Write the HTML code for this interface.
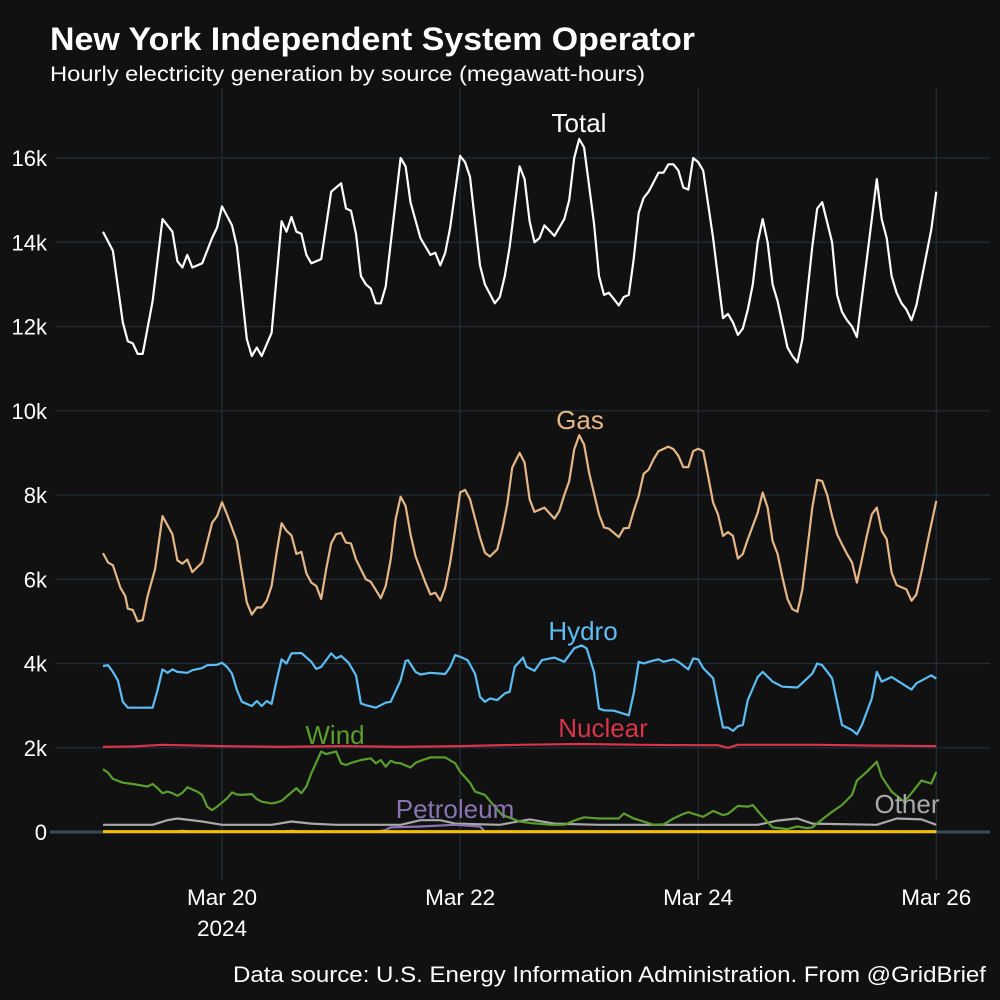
<!DOCTYPE html>
<html><head><meta charset="utf-8">
<style>
body{margin:0;background:#111111;}
svg{display:block;font-family:"Liberation Sans",sans-serif;}
</style></head>
<body>
<svg id="chart" width="1000" height="1000" viewBox="0 0 1000 1000">
<rect width="1000" height="1000" fill="#111111"/>
<text x="50" y="50" fill="#ffffff" font-size="32" font-weight="bold" textLength="645" lengthAdjust="spacingAndGlyphs">New York Independent System Operator</text>
<text x="50" y="81" fill="#ffffff" font-size="21" textLength="595" lengthAdjust="spacingAndGlyphs">Hourly electricity generation by source (megawatt-hours)</text>
<text x="986" y="982" fill="#ffffff" font-size="22" text-anchor="end" textLength="753" lengthAdjust="spacingAndGlyphs">Data source: U.S. Energy Information Administration. From @GridBrief</text>
<g id="grid"></g>
<g id="axes"></g>
<g id="series"></g>
<g id="labels"></g>
</svg>
<script>
const yTicks=[0,2000,4000,6000,8000,10000,12000,14000,16000];
const yTickLabels=["0","2k","4k","6k","8k","10k","12k","14k","16k"];
const xTickHours=[24,72,120,168];
const xTickLabels=["Mar 20","Mar 22","Mar 24","Mar 26"];
const totalHours=[0,2,4,5,6,7,8,10,12,14,15,16,17,18,20,22,23,24,26,27,29,30,31,32,34,36,37,38,39,40,41,42,44,46,48,49,50,51,52,53,54,55,56,57,60,61,62,64,66,67,68,69,70,72,73,74,76,77,79,80,81,82,84,85,86,87,88,89,91,93,94,95,96,97,99,100,101,102,103,104,105,106,107,108,109,110,112,113,114,115,116,117,118,119,120,121,123,125,126,127,128,129,130,131,132,133,134,135,136,138,139,140,141,143,144,145,147,148,149,150,151,152,154,156,157,158,159,160,161,162,163,164,167,168];
const totalVals=[14.25,13.8,12.1,11.65,11.6,11.35,11.35,12.6,14.55,14.25,13.55,13.4,13.7,13.4,13.5,14.1,14.35,14.85,14.4,13.9,11.7,11.3,11.5,11.3,11.85,14.5,14.25,14.6,14.25,14.2,13.7,13.5,13.6,15.2,15.4,14.8,14.75,14.2,13.2,13.0,12.9,12.55,12.55,12.95,16.0,15.8,14.95,14.1,13.7,13.75,13.45,13.75,14.35,16.05,15.9,15.55,13.45,13.0,12.55,12.7,13.2,13.9,15.8,15.5,14.5,14.0,14.1,14.4,14.15,14.55,15.0,16.0,16.45,16.25,14.45,13.2,12.75,12.8,12.65,12.5,12.7,12.75,13.6,14.7,15.05,15.2,15.65,15.65,15.85,15.85,15.7,15.3,15.25,16.0,15.9,15.7,14.1,12.2,12.3,12.1,11.8,11.95,12.4,13.0,14.0,14.55,14.0,13.0,12.6,11.5,11.3,11.15,11.7,13.9,14.8,14.95,14.0,12.75,12.35,12.15,12.0,11.75,13.6,15.5,14.55,14.1,13.2,12.8,12.55,12.4,12.15,12.5,14.3,15.2];
const gasHours=[0,1,2,3.5,4.5,5,6,7,8,9,10.5,12,14,15,16,17,18,20,22,23,24,25,27,28,29,30,31,32,33,34,35,36,37,38,39,40,41,42,43,44,45,46,47,48,49,50,51,53,54,56,57,58,59,60,61,62,63,65,66,67,68,69,70,71,72,73,74,76,77,78,79.5,80.5,81.5,82.5,84,85,86,87,89,91,92,93,94,95,96,97,98,100,101,102,103,104,105,106,107,108,109,110,111,112,114,115,116,117,118,119,120,121,122,123,124,125,126,127,128,129,130,132,133,134,135,136,137,138,139,140,141,142,143,144,145,146,147,148,149,150,151,152,153,154,155,156,157,158,159,160,162,163,164,165,166.5,168];
const gasVals=[6.62,6.4,6.33,5.8,5.6,5.3,5.27,5.0,5.03,5.6,6.24,7.5,7.07,6.45,6.37,6.47,6.17,6.4,7.34,7.5,7.83,7.54,6.9,6.16,5.45,5.16,5.33,5.33,5.49,5.84,6.63,7.33,7.15,7.04,6.6,6.65,6.14,5.92,5.84,5.53,6.24,6.85,7.07,7.1,6.87,6.85,6.47,6.0,5.94,5.55,5.84,6.47,7.42,7.96,7.74,7.07,6.55,5.92,5.64,5.68,5.49,5.8,6.4,7.19,8.06,8.12,7.9,6.99,6.63,6.54,6.71,7.19,7.78,8.65,9.0,8.77,7.9,7.6,7.7,7.44,7.62,8.0,8.33,9.08,9.42,9.2,8.53,7.54,7.23,7.2,7.1,7.0,7.21,7.22,7.62,7.98,8.5,8.6,8.85,9.04,9.15,9.09,8.93,8.66,8.66,9.04,9.1,9.04,8.45,7.82,7.54,7.03,7.12,7.03,6.49,6.6,6.95,7.58,8.06,7.7,6.91,6.6,6.04,5.53,5.29,5.23,5.76,6.71,7.7,8.36,8.33,8.0,7.5,7.07,6.83,6.6,6.4,5.92,6.47,7.03,7.54,7.7,7.15,6.95,6.16,5.86,5.76,5.49,5.64,6.16,7.03,7.86];
const hydroHours=[0,1,2,3,4,5,7,10,11,12,13,14,15,17,18,20,21,23,24,25,26,27,28,30,31,32,33,34,35,36,37,38,40,42,43,44,46,47,48,49.5,51,52,53,55,57,58,60,61,61.5,63,64,66,68,69,70,71,72,73.5,75,76,77,78,79.5,81,82,83,84.7,85.4,87,88.5,91,93,95,96.5,97.5,99,100,101,103,106,107,108,109,110,112,113,115,116,118,119,120,121,123,124,125,126,127,128,129,130,132,133,135,137,140,141,143,144,145,147,148,149,151,152,153,155,156,157,159,161,163,164,167,168];
const hydroVals=[3.94,3.96,3.8,3.6,3.09,2.95,2.95,2.95,3.37,3.86,3.78,3.86,3.8,3.78,3.84,3.89,3.96,3.97,4.02,3.92,3.76,3.37,3.09,2.99,3.11,2.99,3.11,3.04,3.6,4.1,4.0,4.24,4.25,4.04,3.87,3.92,4.24,4.12,4.18,4.02,3.72,3.05,3.01,2.95,3.07,3.09,3.6,4.06,4.08,3.8,3.74,3.78,3.76,3.75,3.92,4.2,4.16,4.08,3.76,3.21,3.09,3.17,3.13,3.29,3.33,3.92,4.14,3.92,3.83,4.08,4.14,4.04,4.36,4.43,4.36,3.8,2.93,2.89,2.88,2.77,3.29,4.04,4.0,4.04,4.1,4.04,4.1,4.04,3.86,4.12,4.1,3.89,3.65,3.05,2.48,2.48,2.4,2.51,2.54,3.13,3.68,3.8,3.57,3.45,3.43,3.54,3.76,4.0,3.96,3.65,3.09,2.54,2.42,2.32,2.54,3.17,3.8,3.57,3.68,3.53,3.38,3.53,3.72,3.64];
const nuclearHours=[0,6,12,24,36,48,60,72,84,96,108,120,124,126,128,144,156,168];
const nuclearVals=[2.02,2.03,2.07,2.04,2.02,2.04,2.02,2.04,2.07,2.09,2.07,2.06,2.06,2.0,2.07,2.07,2.05,2.04];
const windHours=[0,1,2,4,6,8,9,10,11,12,13,14,15,16,17,19,20,21,22,23,25,26,27,28,30,31,32,34,35,36,37,38,39,40,41,42,44,45,47,48,49,50,52,54,55,56,57,58,59,60,62,63,64,66,67,69,71,72,74,75,77,79,80.5,82,84,86.5,90.5,93,95,97,100,104,105,107,109,111,113,115,117,118,121,123,125,126,128,130,131,133,135,138,140,142,143,145,147,149,151,152,154,156,157,159,161.5,163,165,167,168];
const windVals=[1.49,1.41,1.26,1.17,1.14,1.1,1.08,1.14,1.04,0.92,0.96,0.92,0.86,0.93,1.06,0.96,0.88,0.6,0.52,0.6,0.8,0.94,0.89,0.88,0.9,0.78,0.72,0.68,0.7,0.74,0.84,0.94,1.04,0.92,1.08,1.39,1.91,1.85,1.91,1.63,1.59,1.64,1.71,1.75,1.63,1.71,1.55,1.69,1.64,1.63,1.53,1.64,1.69,1.77,1.77,1.77,1.63,1.43,1.17,0.96,0.88,0.6,0.4,0.34,0.25,0.21,0.17,0.17,0.27,0.35,0.32,0.32,0.44,0.32,0.25,0.17,0.18,0.32,0.43,0.47,0.36,0.5,0.4,0.43,0.62,0.6,0.64,0.36,0.11,0.07,0.13,0.09,0.11,0.3,0.48,0.64,0.88,1.22,1.43,1.67,1.31,0.96,0.72,0.92,1.22,1.15,1.43];
const otherHours=[0,10,13,15,20,24,34,38,42,47,60,64,68,71,80,86,91,100,120,132,136,140,143,156,160,165,168];
const otherVals=[0.17,0.17,0.28,0.32,0.25,0.17,0.17,0.25,0.2,0.17,0.17,0.28,0.28,0.2,0.17,0.3,0.2,0.17,0.17,0.17,0.27,0.32,0.2,0.17,0.32,0.3,0.17];
const petroHours=[0,14,16,18,36,38,40,55,57,58,64,71,76,77,168];
const petroVals=[0.0,0.0,0.03,0.0,0.0,0.03,0.0,0.0,0.05,0.11,0.13,0.17,0.13,0.01,0.0];
const solarHours=[0,168];
const solarVals=[0.01,0.01];

const X0=103, PXH=4.96, Y0=832, PXK=42.125;
const xs=h=>X0+h*PXH;
const ys=v=>Y0-v*PXK;
const NS="http://www.w3.org/2000/svg";
function mk(tag,parent){const e=document.createElementNS(NS,tag);parent.appendChild(e);return e;}
const grid=document.getElementById('grid'), axes=document.getElementById('axes'), series=document.getElementById('series');
yTicks.forEach((t,i)=>{
  const y=ys(t/1000);
  const l=mk('line',grid);
  
  
  l.setAttribute('x1',55);l.setAttribute('x2',990);l.setAttribute('y1',y);l.setAttribute('y2',y);
  l.setAttribute('stroke','#232c38');l.setAttribute('stroke-width',1.3);
  const tx=mk('text',axes);
  
  
  tx.setAttribute('x',47);tx.setAttribute('y',y+8);tx.setAttribute('text-anchor','end');
  tx.setAttribute('fill','#ffffff');tx.setAttribute('font-size',22);tx.textContent=yTickLabels[i];
});
xTickHours.forEach((h,i)=>{
  const x=xs(h);
  const l=mk('line',grid);
  
  
  l.setAttribute('x1',x);l.setAttribute('x2',x);l.setAttribute('y1',88);l.setAttribute('y2',880);
  l.setAttribute('stroke','#232c38');l.setAttribute('stroke-width',1.3);
  const tx=mk('text',axes);
  
  
  tx.setAttribute('x',x);tx.setAttribute('y',905);tx.setAttribute('text-anchor','middle');
  tx.setAttribute('fill','#ffffff');tx.setAttribute('font-size',22.5);tx.textContent=xTickLabels[i];
});
const yr=mk('text',axes);


yr.setAttribute('x',xs(24));yr.setAttribute('y',936);yr.setAttribute('text-anchor','middle');
yr.setAttribute('fill','#ffffff');yr.setAttribute('font-size',22.5);yr.textContent='2024';
const zl=mk('line',grid);


zl.setAttribute('x1',50);zl.setAttribute('x2',990);zl.setAttribute('y1',Y0);zl.setAttribute('y2',Y0);
zl.setAttribute('stroke','#3b4a5a');zl.setAttribute('stroke-width',3);

function drawSeries(name,hours,vals,color,w){
  const p=mk('path',series);
  
  
  p.setAttribute('d',hours.map((h,i)=>(i?'L':'M')+xs(h).toFixed(1)+','+ys(vals[i]).toFixed(1)).join(''));
  p.setAttribute('fill','none');p.setAttribute('stroke',color);p.setAttribute('stroke-width',w);
  p.setAttribute('stroke-linejoin','round');
}
drawSeries('other-line',otherHours,otherVals,'#a9a9a9',2.2);
drawSeries('petroleum-line',petroHours,petroVals,'#8a74b2',2.2);
drawSeries('solar-line',solarHours,solarVals,'#f5c000',3);
drawSeries('wind-line',windHours,windVals,'#5a9e2e',2.2);
drawSeries('nuclear-line',nuclearHours,nuclearVals,'#d8344a',2.2);
drawSeries('hydro-line',hydroHours,hydroVals,'#5cbdf5',2.2);
drawSeries('gas-line',gasHours,gasVals,'#e6b786',2.2);
drawSeries('total-line',totalHours,totalVals,'#ffffff',2.2);

const labNames=['total-label','gas-label','hydro-label','nuclear-label','wind-label','petroleum-label','other-label'];
const labText=['Total','Gas','Hydro','Nuclear','Wind','Petroleum','Other'];
const labColor=['#ffffff','#e6b786','#5cbdf5','#d8344a','#5a9e2e','#8a74b2','#a9a9a9'];
const labX=[579,580,583,603,335,455,907];
const labY=[132,429,640,737,744,818,813];
const labels=document.getElementById('labels');
labText.forEach((t,i)=>{
  const tx=mk('text',labels);
  
  
  tx.setAttribute('x',labX[i]);tx.setAttribute('y',labY[i]);tx.setAttribute('text-anchor','middle');
  tx.setAttribute('fill',labColor[i]);tx.setAttribute('font-size',26);tx.textContent=t;
});
</script>
</body></html>
